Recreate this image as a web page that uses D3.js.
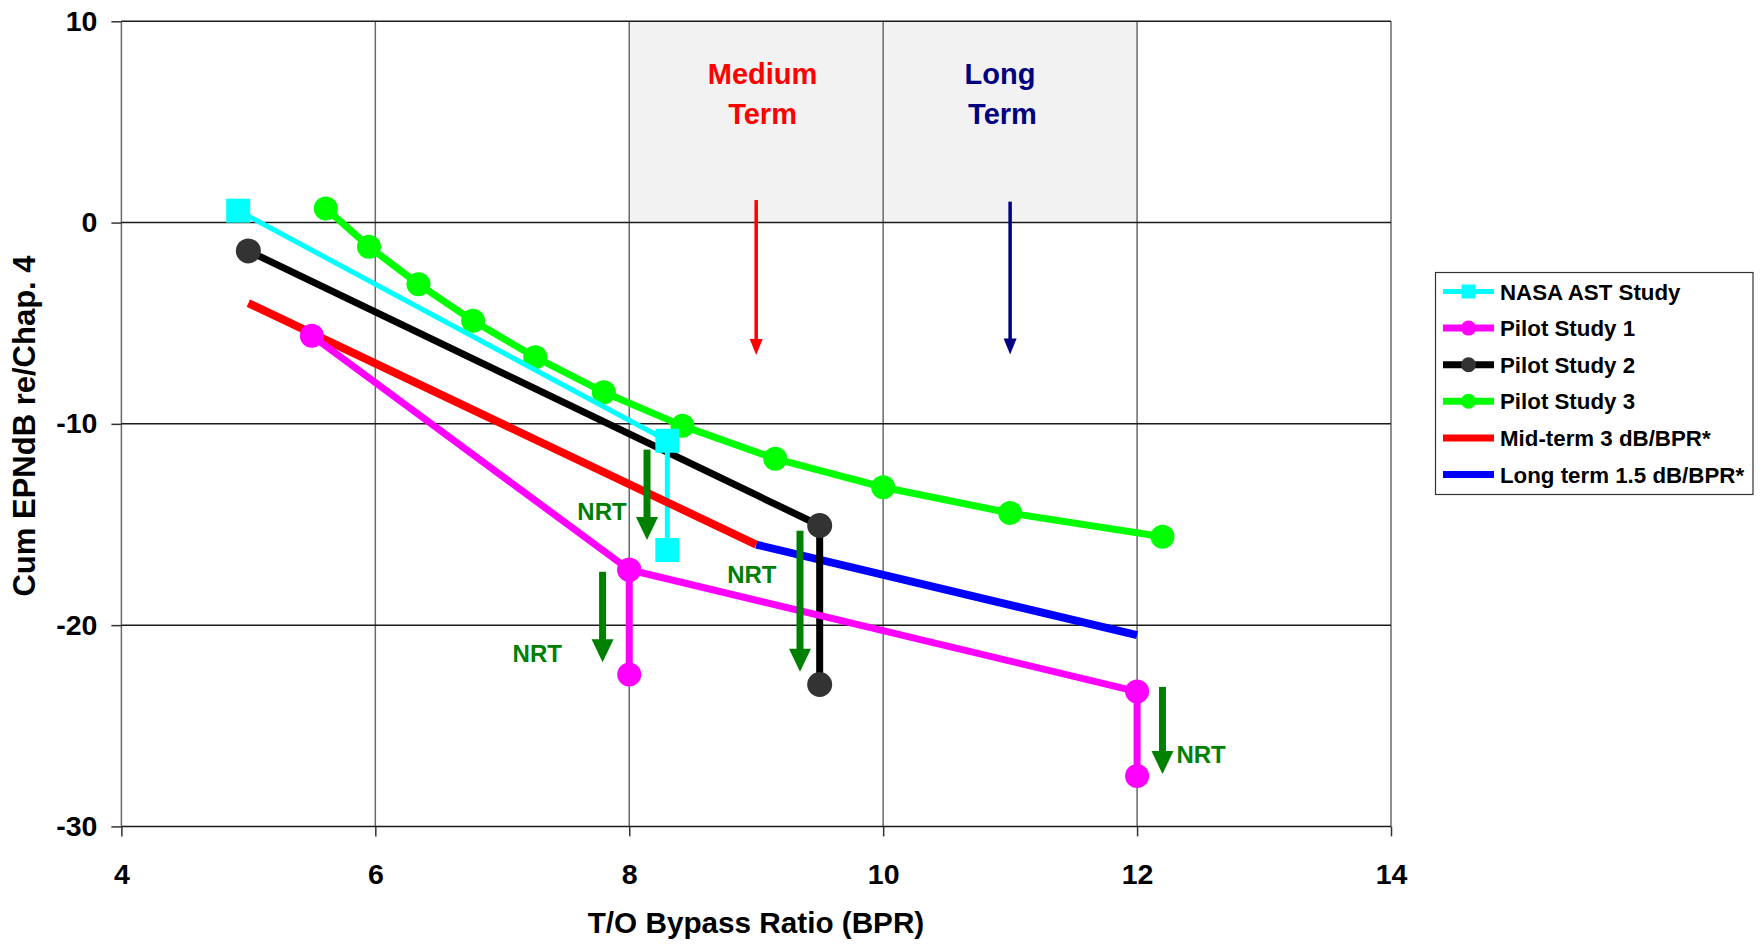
<!DOCTYPE html>
<html>
<head>
<meta charset="utf-8">
<script src="https://cdn.jsdelivr.net/npm/d3@7"></script>
<style>
  html, body { margin: 0; padding: 0; background: #fff; }
  svg { display: block; font-family: "Liberation Sans", Arial, sans-serif; font-weight: bold; }
</style>
</head>
<body>
<svg id="chart" width="1762" height="946"></svg>
<script>
// ---------- data ----------
const xTicks = [4, 6, 8, 10, 12, 14];
const yTicks = [-30, -20, -10, 0, 10];
const xTitle = "T/O Bypass Ratio (BPR)";
const yTitle = "Cum EPNdB re/Chap. 4";

const nasaX = [4.92, 8.3, 8.3];
const nasaY = [0.59, -10.84, -16.27];

const pilot1aX = [5.5, 8, 8];
const pilot1aY = [-5.62, -17.25, -22.45];
const pilot1bX = [8, 12, 12];
const pilot1bY = [-17.25, -23.3, -27.5];

const pilot2X = [5.0, 9.5, 9.5];
const pilot2Y = [-1.41, -15.05, -22.95];

const pilot3X = [5.61, 5.95, 6.34, 6.77, 7.26, 7.80, 8.42, 9.15, 10.0, 11.0, 12.2];
const pilot3Y = [0.70, -1.2, -3.06, -4.88, -6.69, -8.43, -10.1, -11.73, -13.15, -14.43, -15.61];

const midX = [5, 9];
const midY = [-4, -16];
const longX = [9, 12];
const longY = [-16, -20.5];

const legendLabels = ["NASA AST Study", "Pilot Study 1", "Pilot Study 2", "Pilot Study 3",
                      "Mid-term 3 dB/BPR*", "Long term 1.5 dB/BPR*"];

const shadeX = [8, 12];
const shadeY = [0, 10];

const termArrowX = [9, 11];
const termArrowTop = [1.12, 1.04];
const termArrowTip = [-6.58, -6.55];
const termLabelLine1 = ["Medium", "Long"];
const termLabelLine2 = ["Term", "Term"];
const termLabelX1 = [9.05, 10.92];
const termLabelX2 = [9.05, 10.94];
const termLabelY1 = [6.88, 6.88];
const termLabelY2 = [4.9, 4.9];

const nrtX = [8.14, 7.79, 9.345, 12.2];
const nrtTop = [-11.28, -17.35, -15.31, -23.07];
const nrtTip = [-15.77, -21.85, -22.32, -27.4];
const nrtLabel = "NRT";
const nrtLabelX = [7.98, 7.47, 9.16, 12.31];
const nrtLabelY = [-14.78, -21.82, -17.9, -26.87];
const nrtLabelSide = ["end", "end", "end", "start"];

// ---------- styles ----------
const C = {
  nasa: "#00ffff", p1: "#ff00ff", p2line: "#000000", p2mark: "#333333",
  p3: "#00ff00", mid: "#ff0000", long: "#0000ff", nrt: "#008000",
  medium: "#ff0000", longTerm: "#000080"
};

const svg = d3.select("#chart");
const x = d3.scaleLinear().domain([4, 14]).range([121.4, 1391.0]);
const y = d3.scaleLinear().domain([-30, 10]).range([826.4, 21.3]);
const pts = (xs, ys) => xs.map((v, i) => [v, ys[i]]);
const line = d3.line().x(d => x(d[0])).y(d => y(d[1]));

// shaded region
svg.append("rect")
  .attr("x", x(shadeX[0])).attr("y", y(shadeY[1]))
  .attr("width", x(shadeX[1]) - x(shadeX[0]))
  .attr("height", y(shadeY[0]) - y(shadeY[1]))
  .attr("fill", "#f2f2f2");

// grid
svg.append("g").selectAll("line").data(xTicks).join("line")
  .attr("x1", d => x(d)).attr("x2", d => x(d))
  .attr("y1", y(10)).attr("y2", y(-30))
  .attr("stroke", "#6a6a6a").attr("stroke-width", 1.5);
svg.append("g").selectAll("line").data(yTicks).join("line")
  .attr("x1", x(4)).attr("x2", x(14))
  .attr("y1", d => y(d)).attr("y2", d => y(d))
  .attr("stroke", "#1a1a1a").attr("stroke-width", 1.5);

// axes
const fmt = d => String(d);
const yAxis = svg.append("g").attr("transform", `translate(${x(4)},0)`)
  .call(d3.axisLeft(y).tickValues(yTicks).tickSize(10).tickPadding(14).tickFormat(fmt));
const xAxis = svg.append("g").attr("transform", `translate(0,${y(-30)})`)
  .call(d3.axisBottom(x).tickValues(xTicks).tickSize(10).tickPadding(27).tickFormat(fmt));
[yAxis, xAxis].forEach(g => {
  g.select(".domain").remove();
  g.selectAll(".tick line").attr("stroke", "#333").attr("stroke-width", 1.5);
  g.selectAll(".tick text").attr("fill", "#000")
    .style("font-family", '"Liberation Sans", Arial, sans-serif')
    .style("font-weight", "bold").style("font-size", "28.5px");
});

// axis titles
svg.append("text").attr("x", 756).attr("y", 933).attr("text-anchor", "middle")
  .style("font-size", "29.7px").text(xTitle);
svg.append("text").attr("transform", "translate(35,426) rotate(-90)")
  .attr("text-anchor", "middle").style("font-size", "31px").text(yTitle);

// series lines
function drawLine(data, color, width) {
  svg.append("path").datum(data).attr("d", line)
    .attr("fill", "none").attr("stroke", color).attr("stroke-width", width)
    .attr("stroke-linejoin", "round");
}
function drawCircles(data, color, r) {
  svg.append("g").selectAll("circle").data(data).join("circle")
    .attr("cx", d => x(d[0])).attr("cy", d => y(d[1])).attr("r", r).attr("fill", color);
}
function drawSquares(data, color, s) {
  svg.append("g").selectAll("rect").data(data).join("rect")
    .attr("x", d => x(d[0]) - s / 2).attr("y", d => y(d[1]) - s / 2)
    .attr("width", s).attr("height", s).attr("fill", color);
}

drawLine(pts(longX, longY), C.long, 8);
drawLine(pts(pilot2X, pilot2Y), C.p2line, 7);
drawCircles(pts(pilot2X, pilot2Y), C.p2mark, 12.5);
drawLine(pts(pilot3X, pilot3Y), C.p3, 7);
drawCircles(pts(pilot3X, pilot3Y), C.p3, 12);
drawLine(pts(nasaX, nasaY), C.nasa, 5);
drawSquares(pts(nasaX, nasaY), C.nasa, 24);
drawLine(pts(midX, midY), C.mid, 8);
drawLine(pts(pilot1aX, pilot1aY), C.p1, 7);
drawLine(pts(pilot1bX, pilot1bY), C.p1, 7);
drawCircles(pts(pilot1aX, pilot1aY), C.p1, 12);
drawCircles(pts(pilot1bX, pilot1bY), C.p1, 12);

// arrows
function arrow(xv, y1v, y2v, color, shaftW, headW, headL) {
  const px = x(xv), top = y(y1v), tip = y(y2v);
  svg.append("line").attr("x1", px).attr("x2", px).attr("y1", top).attr("y2", tip - headL + 1)
    .attr("stroke", color).attr("stroke-width", shaftW);
  svg.append("path")
    .attr("d", `M${px - headW / 2},${tip - headL} L${px + headW / 2},${tip - headL} L${px},${tip} Z`)
    .attr("fill", color);
}
termArrowX.forEach((v, i) => arrow(v, termArrowTop[i], termArrowTip[i],
  i === 0 ? C.medium : C.longTerm, 3.5, 13, 16));
nrtX.forEach((v, i) => arrow(v, nrtTop[i], nrtTip[i], C.nrt, 7, 22, 23));

// annotation text
nrtX.forEach((v, i) => {
  svg.append("text").attr("x", x(nrtLabelX[i])).attr("y", y(nrtLabelY[i]))
    .attr("text-anchor", nrtLabelSide[i]).attr("fill", C.nrt)
    .style("font-size", "24px").text(nrtLabel);
});
termArrowX.forEach((v, i) => {
  const col = i === 0 ? C.medium : C.longTerm;
  svg.append("text").attr("x", x(termLabelX1[i])).attr("y", y(termLabelY1[i]))
    .attr("text-anchor", "middle").attr("fill", col).style("font-size", "29px").text(termLabelLine1[i]);
  svg.append("text").attr("x", x(termLabelX2[i])).attr("y", y(termLabelY2[i]))
    .attr("text-anchor", "middle").attr("fill", col).style("font-size", "29px").text(termLabelLine2[i]);
});

// legend
const lg = svg.append("g");
lg.append("rect").attr("x", 1435.5).attr("y", 272.5).attr("width", 317.5).attr("height", 222)
  .attr("fill", "#fff").attr("stroke", "#333").attr("stroke-width", 1.2);
const legendStyles = [
  { c: C.nasa, w: 5, m: "square", mc: C.nasa },
  { c: C.p1, w: 7, m: "circle", mc: C.p1 },
  { c: C.p2line, w: 7, m: "circle", mc: C.p2mark },
  { c: C.p3, w: 7, m: "circle", mc: C.p3 },
  { c: C.mid, w: 7, m: null },
  { c: C.long, w: 7, m: null }
];
legendLabels.forEach((lab, i) => {
  const cy = 291.5 + i * 36.6;
  const s = legendStyles[i];
  lg.append("line").attr("x1", 1443).attr("x2", 1494).attr("y1", cy).attr("y2", cy)
    .attr("stroke", s.c).attr("stroke-width", s.w);
  if (s.m === "square") {
    lg.append("rect").attr("x", 1468.5 - 7).attr("y", cy - 7).attr("width", 14).attr("height", 14).attr("fill", s.mc);
  } else if (s.m === "circle") {
    lg.append("circle").attr("cx", 1468.5).attr("cy", cy).attr("r", 7.5).attr("fill", s.mc);
  }
  lg.append("text").attr("x", 1500).attr("y", cy + 8).style("font-size", "22.3px").attr("fill", "#000").text(lab);
});
</script>
</body>
</html>
